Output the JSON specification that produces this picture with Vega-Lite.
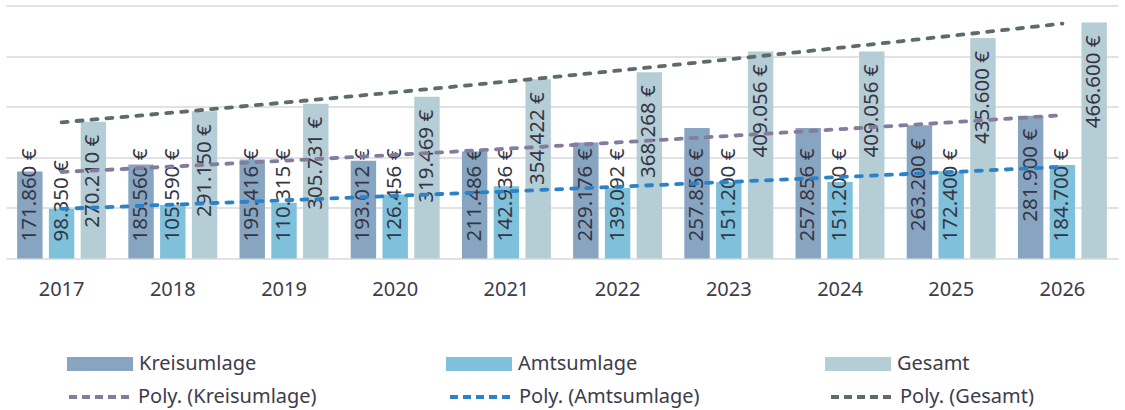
{
  "$schema": "https://vega.github.io/schema/vega-lite/v6.json",
  "width": 1112,
  "height": 253,
  "autosize": {"type": "none"},
  "padding": {"left": 6, "top": 5.5, "right": 7, "bottom": 151.5},
  "background": "white",
  "config": {
    "view": {"stroke": null},
    "font": "Noto Sans",
    "locale": {"number": {"decimal": ",", "thousands": ".", "grouping": [3], "currency": ["", " €"]}},
    "legend": {"padding": 0}
  },
  "data": {
    "values": [
      {"year": 2017, "series": "Kreisumlage", "trend": "Poly. (Kreisumlage)", "value": 171860},
      {"year": 2017, "series": "Amtsumlage", "trend": "Poly. (Amtsumlage)", "value": 98350},
      {"year": 2017, "series": "Gesamt", "trend": "Poly. (Gesamt)", "value": 270210},
      {"year": 2018, "series": "Kreisumlage", "trend": "Poly. (Kreisumlage)", "value": 185560},
      {"year": 2018, "series": "Amtsumlage", "trend": "Poly. (Amtsumlage)", "value": 105590},
      {"year": 2018, "series": "Gesamt", "trend": "Poly. (Gesamt)", "value": 291150},
      {"year": 2019, "series": "Kreisumlage", "trend": "Poly. (Kreisumlage)", "value": 195416},
      {"year": 2019, "series": "Amtsumlage", "trend": "Poly. (Amtsumlage)", "value": 110315},
      {"year": 2019, "series": "Gesamt", "trend": "Poly. (Gesamt)", "value": 305731},
      {"year": 2020, "series": "Kreisumlage", "trend": "Poly. (Kreisumlage)", "value": 193012},
      {"year": 2020, "series": "Amtsumlage", "trend": "Poly. (Amtsumlage)", "value": 126456},
      {"year": 2020, "series": "Gesamt", "trend": "Poly. (Gesamt)", "value": 319469},
      {"year": 2021, "series": "Kreisumlage", "trend": "Poly. (Kreisumlage)", "value": 211486},
      {"year": 2021, "series": "Amtsumlage", "trend": "Poly. (Amtsumlage)", "value": 142936},
      {"year": 2021, "series": "Gesamt", "trend": "Poly. (Gesamt)", "value": 354422},
      {"year": 2022, "series": "Kreisumlage", "trend": "Poly. (Kreisumlage)", "value": 229176},
      {"year": 2022, "series": "Amtsumlage", "trend": "Poly. (Amtsumlage)", "value": 139092},
      {"year": 2022, "series": "Gesamt", "trend": "Poly. (Gesamt)", "value": 368268},
      {"year": 2023, "series": "Kreisumlage", "trend": "Poly. (Kreisumlage)", "value": 257856},
      {"year": 2023, "series": "Amtsumlage", "trend": "Poly. (Amtsumlage)", "value": 151200},
      {"year": 2023, "series": "Gesamt", "trend": "Poly. (Gesamt)", "value": 409056},
      {"year": 2024, "series": "Kreisumlage", "trend": "Poly. (Kreisumlage)", "value": 257856},
      {"year": 2024, "series": "Amtsumlage", "trend": "Poly. (Amtsumlage)", "value": 151200},
      {"year": 2024, "series": "Gesamt", "trend": "Poly. (Gesamt)", "value": 409056},
      {"year": 2025, "series": "Kreisumlage", "trend": "Poly. (Kreisumlage)", "value": 263200},
      {"year": 2025, "series": "Amtsumlage", "trend": "Poly. (Amtsumlage)", "value": 172400},
      {"year": 2025, "series": "Gesamt", "trend": "Poly. (Gesamt)", "value": 435600},
      {"year": 2026, "series": "Kreisumlage", "trend": "Poly. (Kreisumlage)", "value": 281900},
      {"year": 2026, "series": "Amtsumlage", "trend": "Poly. (Amtsumlage)", "value": 184700},
      {"year": 2026, "series": "Gesamt", "trend": "Poly. (Gesamt)", "value": 466600}
    ]
  },
  "resolve": {"scale": {"x": "independent"}, "axis": {"x": "independent"}},
  "layer": [
    {
      "layer": [
        {
          "mark": {"type": "bar"},
          "encoding": {
            "x": {
              "field": "year", "type": "ordinal",
              "scale": {"paddingInner": 0.2, "paddingOuter": 0.1},
              "axis": {"title": null, "domain": false, "ticks": false, "labelAngle": 0, "labelFontSize": 20, "labelColor": "#3c3c4c", "labelPadding": 21, "labelFont": "Noto Sans"}
            },
            "xOffset": {"field": "series", "type": "nominal", "sort": ["Kreisumlage", "Amtsumlage", "Gesamt"], "scale": {"paddingInner": 0.2, "paddingOuter": 0}},
            "y": {
              "field": "value", "type": "quantitative",
              "scale": {"domain": [0, 500000], "nice": false},
              "axis": {"title": null, "labels": false, "ticks": false, "domain": false, "values": [0, 100000, 200000, 300000, 400000, 500000], "gridColor": "#d9d9de", "gridWidth": 1.6}
            },
            "fill": {
              "field": "series", "type": "nominal",
              "scale": {"domain": ["Kreisumlage", "Amtsumlage", "Gesamt"], "range": ["#87a5c0", "#7fc0da", "#b5cdd4"]},
              "legend": {
                "title": null, "orient": "none", "legendX": 61, "legendY": 348.5,
                "direction": "horizontal", "columns": 3, "gridAlign": "all", "columnPadding": 187,
                "symbolType": "M-1,-0.21H1V0.21H-1Z", "symbolSize": 4356, "symbolStrokeWidth": 0,
                "clipHeight": 20, "labelFontSize": 20, "labelColor": "#3c3c4c", "labelOffset": 6, "labelLimit": 400, "labelFont": "Noto Sans"
              }
            }
          }
        },
        {
          "transform": [{"filter": "datum.series == 'Gesamt' || datum.value > 260000"}],
          "mark": {"type": "text", "angle": 270, "align": "right", "baseline": "middle", "dx": -13, "fontSize": 20.5, "color": "#353545", "font": "Noto Sans"},
          "encoding": {
            "x": {"field": "year", "type": "ordinal"},
            "xOffset": {"field": "series", "type": "nominal", "sort": ["Kreisumlage", "Amtsumlage", "Gesamt"]},
            "y": {"field": "value", "type": "quantitative"},
            "text": {"field": "value", "type": "quantitative", "format": "$,.0f"}
          }
        },
        {
          "transform": [{"filter": "!(datum.series == 'Gesamt' || datum.value > 260000)"}],
          "mark": {"type": "text", "angle": 270, "align": "left", "baseline": "middle", "dx": 17, "fontSize": 20.5, "color": "#353545", "font": "Noto Sans"},
          "encoding": {
            "x": {"field": "year", "type": "ordinal"},
            "xOffset": {"field": "series", "type": "nominal", "sort": ["Kreisumlage", "Amtsumlage", "Gesamt"]},
            "y": {"datum": 0, "type": "quantitative"},
            "text": {"field": "value", "type": "quantitative", "format": "$,.0f"}
          }
        }
      ]
    },
    {
      "transform": [{"regression": "value", "on": "year", "groupby": ["trend"], "method": "poly", "order": 2}],
      "mark": {"type": "line", "strokeWidth": 3.8, "strokeDash": [6, 9], "strokeCap": "round"},
      "encoding": {
        "x": {"field": "year", "type": "quantitative", "scale": {"domain": [2016.5, 2026.5], "nice": false, "zero": false}, "axis": null},
        "y": {"field": "value", "type": "quantitative"},
        "stroke": {
          "field": "trend", "type": "nominal",
          "scale": {"domain": ["Poly. (Kreisumlage)", "Poly. (Amtsumlage)", "Poly. (Gesamt)"], "range": ["#857c9d", "#2a82c8", "#5e6b6b"]},
          "legend": {
            "title": null, "orient": "none", "legendX": 61, "legendY": 381.5,
            "direction": "horizontal", "columns": 3, "gridAlign": "all", "columnPadding": 129,
            "symbolType": "stroke", "symbolSize": 3969, "symbolStrokeWidth": 3.8, "symbolDash": [8, 5],
            "clipHeight": 20, "labelFontSize": 20, "labelColor": "#3c3c4c", "labelOffset": 4, "labelLimit": 400, "labelFont": "Noto Sans"
          }
        }
      }
    }
  ]
}
